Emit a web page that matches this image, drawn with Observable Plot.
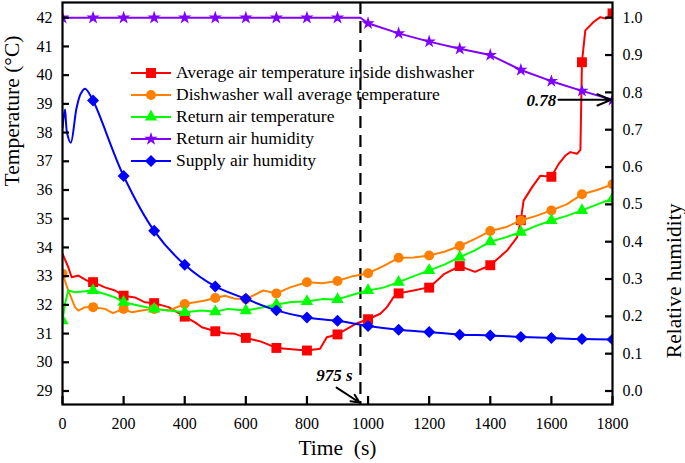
<!DOCTYPE html>
<html><head><meta charset="utf-8">
<script src="https://cdn.jsdelivr.net/npm/d3@7"></script>
<script src="https://cdn.jsdelivr.net/npm/@observablehq/plot@0.6"></script>
<style>
body{margin:0;background:#fff;}
#wrap{position:relative;width:685px;height:463px;font-family:'Liberation Serif','Times New Roman',Tinos,Times,'DejaVu Serif',serif;}
#legend{position:absolute;left:131px;top:62.4px;font-size:17.5px;line-height:21.9px;color:#000;}
.row{display:flex;align-items:center;height:21.9px;white-space:nowrap;}
.row svg{flex:none;margin-right:5px;}
svg text{font-family:'Liberation Serif','Times New Roman',Tinos,Times,'DejaVu Serif',serif;}
</style></head><body><div id="wrap"><div id="legend"></div></div>
<script>
// ---- series meta ----
const seriesNames = ["Average air temperature inside dishwasher","Dishwasher wall average temperature","Return air temperature","Return air humidity","Supply air humidity"];
const seriesColors = ["#ff0000","#ff8000","#00ff00","#8000ff","#0000ff"];
const seriesSymbols = ["square","circle","triangle","star","diamond2"];
const seriesMarkFrom = [100, 0, 0, 0, 100];

// ---- average air temperature inside dishwasher (°C) ----
const redTime = [0,19,30,52,79,100,139,172,200,237,270,300,347,400,434,456,500,532,565,600,650,700,750,800,843,865,900,931,964,1000,1040,1062,1083,1100,1149,1193,1200,1250,1300,1350,1400,1455,1488,1500,1509,1537,1564,1600,1624,1646,1662,1684,1695,1700,1711,1738,1760,1777,1800];
const redTemp = [33.78,33.31,32.96,33.02,32.85,32.79,32.61,32.5,32.32,32.26,32.09,32.06,31.92,31.59,31.39,31.22,31.08,31.01,30.99,30.85,30.72,30.5,30.45,30.41,30.47,30.87,30.97,31.16,31.36,31.5,31.69,31.92,32.26,32.4,32.5,32.6,32.6,33.08,33.35,33.15,33.38,33.89,34.36,34.95,35.63,36.1,36.5,36.46,36.91,37.2,37.32,37.26,37.4,40.45,41.56,41.85,42.02,41.97,42.15];

// ---- dishwasher wall average temperature (°C) ----
const orangeTime = [0,19,41,52,74,100,139,165,200,227,259,300,347,400,434,467,500,532,565,600,657,700,745,800,850,900,950,1000,1050,1100,1150,1200,1250,1300,1350,1400,1450,1500,1550,1600,1650,1700,1750,1800];
const orangeTemp = [33.08,32.5,31.92,31.8,31.92,31.92,31.86,31.71,31.86,31.74,31.8,31.86,31.8,32.03,32.09,32.15,32.24,32.32,32.21,32.2,32.5,32.4,32.61,32.79,32.75,32.83,33.0,33.1,33.35,33.64,33.65,33.72,33.85,34.05,34.3,34.57,34.7,34.94,35.1,35.29,35.5,35.85,36.0,36.2];

// ---- return air temperature (°C) ----
const greenTime = [0,8,19,41,100,139,172,200,248,300,347,400,456,500,542,600,650,700,750,800,850,900,950,1000,1050,1100,1150,1200,1250,1300,1350,1400,1450,1500,1550,1600,1650,1700,1750,1800];
const greenTemp = [31.45,32.03,32.5,32.44,32.5,32.38,32.26,32.09,31.98,31.86,31.8,31.74,31.8,31.76,31.86,31.8,31.9,32.01,32.1,32.12,32.2,32.19,32.35,32.5,32.6,32.79,33.0,33.2,33.4,33.66,33.9,34.2,34.35,34.53,34.75,34.94,35.1,35.29,35.5,35.7];

// ---- return air humidity (relative) ----
const purpleTime = [0,100,200,300,400,500,600,700,800,900,975,1000,1100,1200,1300,1400,1500,1600,1700,1800];
const purpleHum = [1.0,1.0,1.0,1.0,1.0,1.0,1.0,1.0,1.0,1.0,1.0,0.985,0.958,0.936,0.917,0.9,0.86,0.83,0.804,0.78];

// ---- supply air humidity (relative) ----
const blueTime = [0,8,15,27,46,60,74,100,200,300,400,500,600,700,800,900,1000,1100,1200,1300,1400,1500,1600,1700,1800];
const blueHum = [0.705,0.754,0.691,0.665,0.758,0.797,0.81,0.778,0.576,0.429,0.338,0.28,0.247,0.216,0.197,0.188,0.174,0.164,0.158,0.151,0.149,0.145,0.142,0.139,0.138];

// ---- axes & annotations ----
const xTicks = [0,200,400,600,800,1000,1200,1400,1600,1800];
const tempTicks = [29,30,31,32,33,34,35,36,37,38,39,40,41,42];
const humTicks = [0,0.1,0.2,0.3,0.4,0.5,0.6,0.7,0.8,0.9,1.0];
const markerTime = 975;
const markerLabel = "975 s";
const endHum = 0.78;
const endLabel = "0.78";

// right axis: humidity 0..1 shares the frame with temperature 29..42
const humToTemp = h => 29 + 13 * h;

const W = 685, H = 463, ML = 62, MR = 73, MT = 2, MB = 59;
const FW = W - ML - MR, FH = H - MT - MB;
const X0 = 0, X1 = 1800, Y0 = 28.53, Y1 = 42.53;
const pxX = (X1 - X0) / FW, pxY = (Y1 - Y0) / FH;   // data units per pixel
const FONT = "'Liberation Serif','Times New Roman',Tinos,Times,'DejaVu Serif',serif";

const mk = (ts, vs) => ts.map((t, i) => ({t, v: vs[i]}));
const series = [
  mk(redTime, redTemp),
  mk(orangeTime, orangeTemp),
  mk(greenTime, greenTemp),
  mk(purpleTime, purpleHum.map(humToTemp)),
  mk(blueTime, blueHum.map(humToTemp))
];
const curves = ["linear","linear","linear","linear","catmull-rom"];
const dotR = {square:5.6, circle:5, triangle:4.6, star:4.2, diamond2:5.4};

const marks = [];
marks.push(Plot.ruleX([markerTime], {x: d => d, stroke: "black", strokeWidth: 2.2, strokeDasharray: "12,7"}));
series.forEach((data, i) => {
  marks.push(Plot.line(data, {x: "t", y: "v", stroke: seriesColors[i], strokeWidth: 2, curve: curves[i], clip: true}));
  marks.push(Plot.dot(data.filter(d => d.t % 100 === 0 && d.t >= seriesMarkFrom[i]), {
    x: "t", y: "v", symbol: () => seriesSymbols[i], r: dotR[seriesSymbols[i]], fill: seriesColors[i], stroke: "none", clip: true
  }));
});
marks.push(Plot.frame({stroke: "black", strokeWidth: 2.2}));
// inward ticks (8 px / 7 px long)
marks.push(Plot.ruleX(xTicks, {x: d => d, y1: Y0, y2: Y0 + 8 * pxY, stroke: "black", strokeWidth: 2.2}));
marks.push(Plot.ruleY(tempTicks, {y: d => d, x1: X0, x2: X0 + 7 * pxX, stroke: "black", strokeWidth: 2.2}));
marks.push(Plot.ruleY(humTicks.map(humToTemp), {y: d => d, x1: X1 - 7 * pxX, x2: X1, stroke: "black", strokeWidth: 2.2}));
// tick labels
marks.push(Plot.axisX({ticks: xTicks, tickSize: 0, tickPadding: 13, tickFormat: d => String(d), fontSize: 16, label: null}));
marks.push(Plot.axisY({ticks: tempTicks, tickSize: 0, tickPadding: 10, tickFormat: d => String(d), fontSize: 16, label: null}));
marks.push(Plot.axisY({anchor: "right", ticks: humTicks.map(humToTemp), tickSize: 0, tickPadding: 10,
  tickFormat: v => ((v - 29) / 13).toFixed(1), fontSize: 16, label: null}));
// axis titles
marks.push(Plot.text(["Time\u00a0 (s)"], {text: d => d, frameAnchor: "bottom", dy: 50, lineAnchor: "bottom", fontSize: 21.5}));
marks.push(Plot.text(["Temperature (°C)"], {text: d => d, frameAnchor: "left", rotate: -90, dx: -50, dy: -17, fontSize: 21.5}));
marks.push(Plot.text(["Relative humidity"], {text: d => d, frameAnchor: "right", rotate: -90, dx: 62, dy: 0, fontSize: 21.5}));
// annotations
marks.push(Plot.text([markerTime], {x: d => d, frameAnchor: "bottom", text: () => markerLabel, dx: -26, dy: -24, fontSize: 17, fontWeight: "bold", fontStyle: "italic", lineAnchor: "bottom"}));
marks.push(Plot.arrow([{x1: markerTime - 78, y1: 29.12, x2: markerTime - 3, y2: 28.6}], {x1: "x1", y1: "y1", x2: "x2", y2: "y2", stroke: "black", strokeWidth: 2, headLength: 9, headAngle: 50}));
marks.push(Plot.text([endHum], {x: 1616, y: d => humToTemp(d), text: () => endLabel, textAnchor: "end", fontSize: 17, fontWeight: "bold", fontStyle: "italic", dy: 1}));
marks.push(Plot.arrow([{x1: 1623, y1: humToTemp(endHum), x2: 1795, y2: humToTemp(endHum)}], {x1: "x1", y1: "y1", x2: "x2", y2: "y2", stroke: "black", strokeWidth: 2, headLength: 11, headAngle: 45}));

const chart = Plot.plot({
  width: W, height: H,
  marginLeft: ML, marginRight: MR, marginTop: MT, marginBottom: MB,
  style: {fontFamily: FONT, fontSize: "16px", color: "black", background: "white", overflow: "visible"},
  x: {domain: [X0, X1]},
  y: {domain: [Y0, Y1]},
  marks
});
document.getElementById("wrap").prepend(chart);

// legend inside the plot area
const legend = d3.select("#legend");
const symMap = {square: d3.symbolSquare, circle: d3.symbolCircle, triangle: d3.symbolTriangle, star: d3.symbolStar, diamond2: d3.symbolDiamond2};
seriesNames.forEach((name, i) => {
  const row = legend.append("div").attr("class", "row");
  const svg = row.append("svg").attr("width", 40).attr("height", 22);
  svg.append("line").attr("x1", 0).attr("x2", 40).attr("y1", 11).attr("y2", 11).attr("stroke", seriesColors[i]).attr("stroke-width", 2);
  const r = dotR[seriesSymbols[i]];
  svg.append("path").attr("transform", "translate(20,11)")
    .attr("d", d3.symbol(symMap[seriesSymbols[i]], Math.PI * r * r)())
    .attr("fill", seriesColors[i]);
  row.append("span").text(name);
});
</script></body></html>
